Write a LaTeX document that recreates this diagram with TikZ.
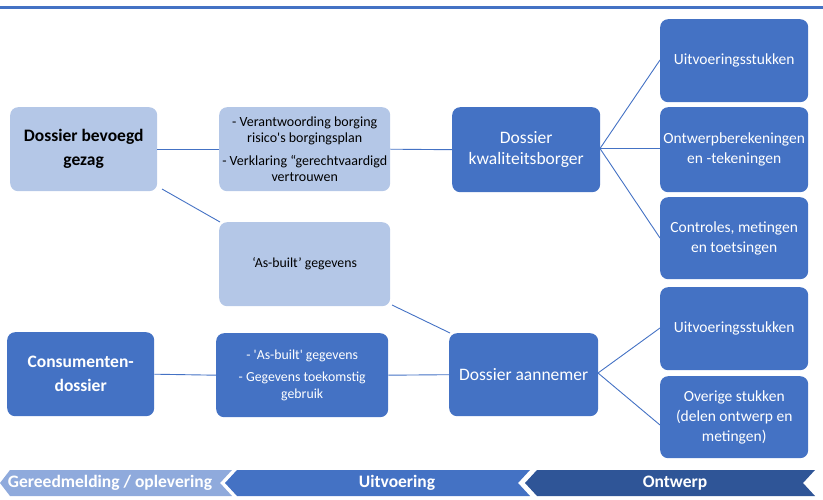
\documentclass[tikz,border=0pt]{standalone}
\usepackage{fontspec}
\setmainfont{Carlito}[Ligatures=TeXOff]
\definecolor{dblue}{HTML}{4472C4}
\definecolor{lblue}{HTML}{B4C7E7}
\definecolor{mblue}{HTML}{8FAADC}
\definecolor{nblue}{HTML}{2F5597}
\begin{document}
\begin{tikzpicture}[x=1pt,y=-1pt,
  box/.style={rounded corners=8pt, inner sep=0pt, align=center, anchor=north west},
  darkbox/.style={box, fill=dblue, text=white},
  lightbox/.style={box, fill=lblue, text=black},
  conn/.style={draw=dblue, line width=0.9pt},
  bartext/.style={text=white, font=\fontsize{17.5}{20}\selectfont\bfseries},
]
\useasboundingbox (0,0) rectangle (823,500);
\draw[dblue, line width=2.5pt] (0,7.5) -- (823,7.5);

% left column
\node[lightbox, minimum width=147pt, minimum height=84pt,
  font=\fontsize{17.5}{24}\selectfont\bfseries] (gezag) at (10,107)
  {Dossier bevoegd\\gezag};
\node[darkbox, minimum width=147pt, minimum height=84pt,
  font=\fontsize{17.5}{24}\selectfont\bfseries] (consument) at (7,332)
  {Consumenten-\\dossier};

% middle column
\node[lightbox, minimum width=171pt, minimum height=84pt,
  font=\fontsize{14}{16.5}\selectfont] (verantw) at (219,107)
  {- Verantwoording borging\\risico's borgingsplan\\[6pt]- Verklaring “gerechtvaardigd\\vertrouwen};
\node[lightbox, minimum width=171pt, minimum height=84pt,
  font=\fontsize{13.8}{16.5}\selectfont] (asbuilt) at (219,222)
  {‘As-built’ gegevens};
\node[darkbox, minimum width=172pt, minimum height=84pt,
  font=\fontsize{13.8}{17}\selectfont] (gegevens) at (216,333)
  {- 'As-built' gegevens\\[5pt]- Gegevens toekomstig\\gebruik};

% third column
\node[darkbox, minimum width=148pt, minimum height=85pt,
  font=\fontsize{17.5}{21.5}\selectfont] (kwal) at (452,107)
  {Dossier\\kwaliteitsborger};
\node[darkbox, minimum width=149pt, minimum height=83pt,
  font=\fontsize{17.5}{21.5}\selectfont] (aannemer) at (449,333)
  {Dossier aannemer};

% right column
\tikzset{rbox/.style={darkbox, minimum width=148pt, font=\fontsize{15.5}{20}\selectfont}}
\node[rbox, minimum height=83pt] (r1) at (660,19) {Uitvoeringsstukken};
\node[rbox, minimum height=85pt] (r2) at (660,107) {Ontwerpberekeningen\\en -tekeningen};
\node[rbox, minimum height=82pt] (r3) at (660,197) {Controles, metingen\\en toetsingen};
\node[rbox, minimum height=83pt] (r4) at (660,287) {Uitvoeringsstukken};
\node[rbox, minimum height=82pt] (r5) at (660,376) {Overige stukken\\(delen ontwerp en\\metingen)};

% connectors
\coordinate (k0) at (600,148.5);
\coordinate (a0) at (598,373);
\draw[conn] (gezag.east) -- (verantw.west);
\draw[conn] (verantw.east) -- (kwal.west);
\draw[conn] (k0) -- (660,60);
\draw[conn] (k0) -- (660,148.5);
\draw[conn] (k0) -- (660,238);
\draw[conn] (consument.east) -- (gegevens.west);
\draw[conn] (gegevens.east) -- (aannemer.west);
\draw[conn] (a0) -- (660,328);
\draw[conn] (a0) -- (660,425);
\draw[conn] (162,189) -- (220,222);
\draw[conn] (392,305) -- (450,333);

% bottom phase bar
\fill[mblue] (0,483) -- (10,470) -- (232,470) -- (220,483) -- (232,496) -- (10,496) -- cycle;
\fill[dblue] (225,483) -- (237,470) -- (530,470) -- (518,483) -- (530,496) -- (237,496) -- cycle;
\fill[nblue] (525,483) -- (537,470) -- (815,470) -- (803,483) -- (815,496) -- (537,496) -- cycle;
\node[bartext] (p1) at (110,483) {Gereedmelding / oplevering};
\node[bartext] (p2) at (397,483) {Uitvoering};
\node[bartext] (p3) at (675,483) {Ontwerp};
\end{tikzpicture}
\end{document}
